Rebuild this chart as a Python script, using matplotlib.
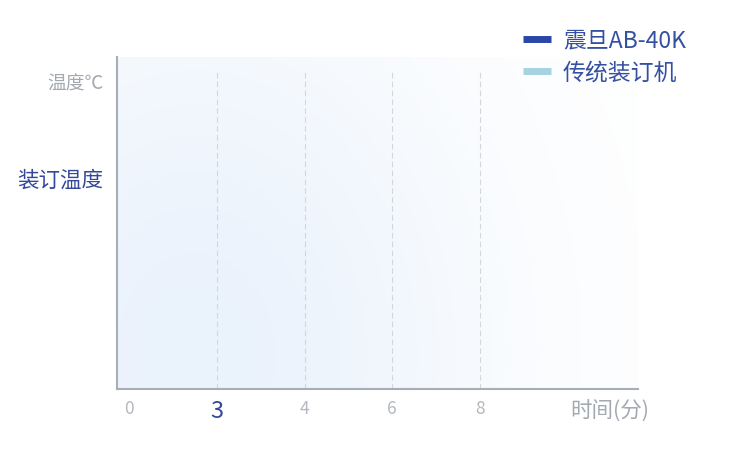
import matplotlib.pyplot as plt
import numpy as np
from matplotlib.lines import Line2D

plt.rcParams["font.family"] = ["Noto Sans CJK SC", "DejaVu Sans"]
plt.rcParams["font.weight"] = "light"

# categories on the time axis
time_labels = ["0", "3", "4", "6", "8"]
time_unit = "时间(分)"
highlight_tick = "3"

# y axis labels (relative heights)
y_labels = ["装订温度", "温度℃"]
y_levels = [0.636, 0.925]

# series shown in the legend (no points drawn yet)
series_names = ["震旦AB-40K", "传统装订机"]
series_colors = ["#2a46a6", "#a6d3e1"]

GRAY = "#a3a9b0"
BLUE = "#34479a"


def main():
    fig = plt.figure(figsize=(7.5, 4.68), dpi=100)
    W, H = 750, 468
    left, right, bottom, top = 117, 638, 389, 57
    ax = fig.add_axes([left / W, 1 - bottom / H, (right - left) / W, (bottom - top) / H])

    step = 87.75
    x0 = 129
    xmin = (left - x0) / step
    xmax = (right - x0) / step
    ax.set_xlim(xmin, xmax)
    ax.set_ylim(0, 1)

    # soft blue background glow, strongest low and to the left
    nx, ny = 300, 200
    gx = np.linspace(0, 1, nx)
    gy = np.linspace(0, 1, ny)
    X, Y = np.meshgrid(gx, gy)
    d2 = ((X - 0.15) / 0.62) ** 2 + ((Y - 0.1) / 1.25) ** 2
    k = np.exp(-d2 * 1.3)
    base = np.array([234, 242, 252]) / 255
    img = np.ones((ny, nx, 3)) * (1 - k[..., None]) + base * k[..., None]
    ax.imshow(img, extent=[xmin, xmax, 0, 1], origin="lower", aspect="auto", zorder=0)

    # dashed grid lines at the time marks (not at 0)
    for i in range(1, len(time_labels)):
        ax.plot([i, i], [0, 0.955], color="#d3d7dc", lw=0.8, ls=(0, (5, 3)), zorder=1)

    # empty series for the legend
    for name, color in zip(series_names, series_colors):
        ax.plot([], [], color=color, label=name)

    for s in ["top", "right"]:
        ax.spines[s].set_visible(False)
    for s in ["left", "bottom"]:
        ax.spines[s].set_color("#a7aeb6")
        ax.spines[s].set_linewidth(1.5)

    positions = list(range(len(time_labels))) + [(610 - x0) / step]
    ax.set_xticks(positions)
    ax.set_xticklabels(time_labels + [time_unit])
    ax.tick_params(axis="x", length=0, pad=8)
    for lab in ax.get_xticklabels():
        if lab.get_text() == highlight_tick:
            lab.set_color(BLUE)
            lab.set_fontsize(17)
        elif lab.get_text() == time_unit:
            lab.set_color(GRAY)
            lab.set_fontsize(15.5)
        else:
            lab.set_color("#b3b8be")
            lab.set_fontsize(12.5)

    ax.set_yticks(y_levels)
    ax.set_yticklabels(y_labels)
    ax.tick_params(axis="y", length=0, pad=10)
    ylabs = ax.get_yticklabels()
    ylabs[0].set_color(BLUE)
    ylabs[0].set_fontsize(15.5)
    ylabs[1].set_color(GRAY)
    ylabs[1].set_fontsize(13.5)

    handles = [Line2D([], [], color=c, lw=5, solid_capstyle="butt") for c in series_colors]
    leg = fig.legend(
        handles,
        series_names,
        loc="upper left",
        bbox_to_anchor=(523 / W, 1 - 29 / H),
        frameon=False,
        fontsize=16.5,
        handlelength=1.2,
        handletextpad=0.55,
        labelspacing=0.4,
        borderpad=0,
        borderaxespad=0,
    )
    for t in leg.get_texts():
        t.set_color("#3550a0")

    fig.savefig("out.png", dpi=100)


if __name__ == "__main__":
    main()
